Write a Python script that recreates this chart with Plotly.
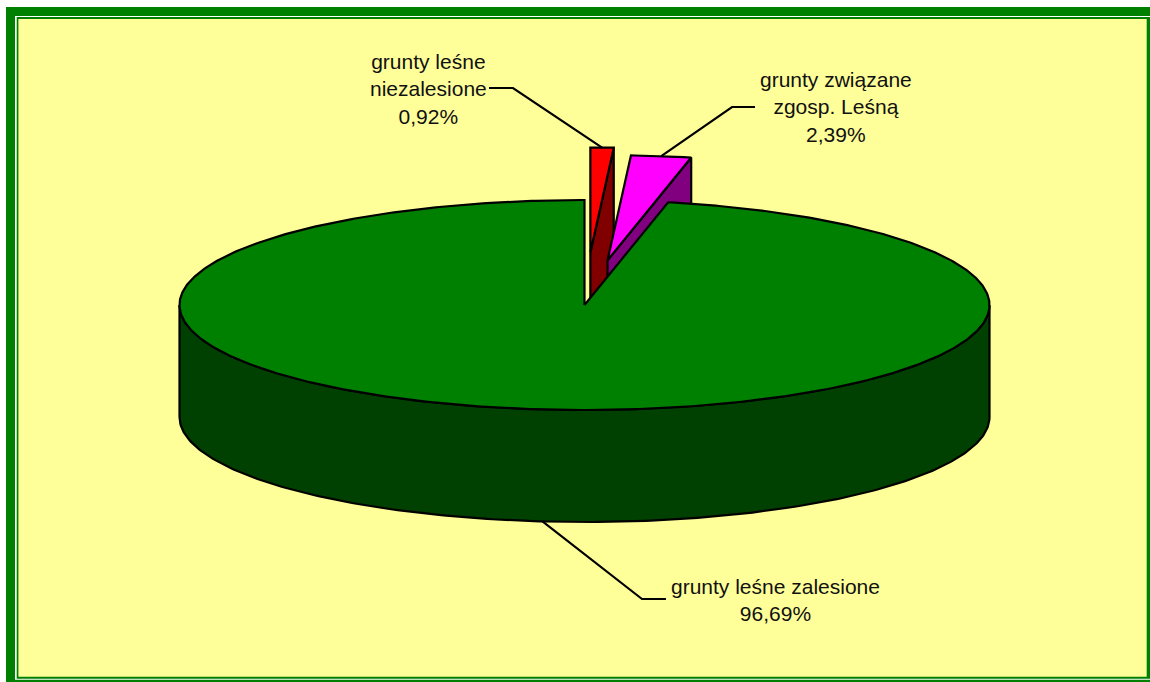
import numpy as np
import plotly.graph_objects as go

# ---- data ----
categories = ["grunty leśne niezalesione", "grunty związane zgosp. Leśną", "grunty leśne zalesione"]
display_names = ["grunty leśne<br>niezalesione", "grunty związane<br>zgosp. Leśną", "grunty leśne zalesione"]
values = [0.92, 2.39, 96.69]

# ---- style ----
top_colors = ["#FF0000", "#FF00FF", "#008000"]
side_colors = ["#800000", "#800080", "#004000"]
explode = [0.5, 0.43, 0.0]

# pie geometry in page pixels
CX, CY, RX, RY, DEPTH = 584.5, 305.0, 405.0, 105.0, 112.0
# label centre positions and leader knees (page pixels)
label_pos = [(428, 89), (836, 107), (775, 600)]
knee_pts = [[(513, 88), (489, 88)], [(732, 107), (755, 107)], [(642, 599), (666, 599)]]

W, H = 1150, 682
fig = go.Figure()

total = sum(values)
bounds = np.concatenate([[0.0], np.cumsum(values)]) / total * 360.0


def proj(theta_deg, off, dz=0.0):
    t = np.radians(theta_deg)
    return CX + off[0] + RX * np.sin(t), CY + off[1] - RY * np.cos(t) + dz


def poly(xs, ys, fill):
    xs = list(xs) + [xs[0]]
    ys = list(ys) + [ys[0]]
    fig.add_trace(go.Scatter(x=xs, y=ys, mode="lines", fill="toself", fillcolor=fill,
                             line=dict(color="black", width=2.2), hoverinfo="skip",
                             showlegend=False))


slices = []
for i, v in enumerate(values):
    t0, t1 = bounds[i], bounds[i + 1]
    m = (t0 + t1) / 2
    mr = np.radians(m)
    off = (explode[i] * RX * np.sin(mr), -explode[i] * RY * np.cos(mr))
    slices.append((i, t0, t1, m, off))

# draw exploded (back) slices first, main pie last
order = sorted(slices, key=lambda s: explode[s[0]], reverse=True)
for i, t0, t1, m, off in order:
    apex = (CX + off[0], CY + off[1])
    # radial faces
    if np.sin(np.radians(t1)) > 1e-9:
        px, py = proj(t1, off)
        poly([apex[0], px, px, apex[0]], [apex[1], py, py + DEPTH, apex[1] + DEPTH], side_colors[i])
    if np.sin(np.radians(t0)) < -1e-9:
        px, py = proj(t0, off)
        poly([apex[0], px, px, apex[0]], [apex[1], py, py + DEPTH, apex[1] + DEPTH], side_colors[i])
    # outer curved side (front half only)
    a, b = max(t0, 90.0), min(t1, 270.0)
    if b > a:
        th = np.linspace(a, b, 240)
        xs, ys = proj(th, off)
        poly(np.concatenate([xs, xs[::-1]]), np.concatenate([ys, ys[::-1] + DEPTH]), side_colors[i])
    # top face
    th = np.linspace(t0, t1, max(3, int((t1 - t0) * 2)))
    xs, ys = proj(th, off)
    poly(np.concatenate([[apex[0]], xs]), np.concatenate([[apex[1]], ys]), top_colors[i])

# leader lines and labels
for i, t0, t1, m, off in slices:
    ax_, ay_ = proj(m, off)
    if np.cos(np.radians(m)) < 0:
        ay_ += DEPTH
    (k1x, k1y), (k2x, k2y) = knee_pts[i]
    fig.add_trace(go.Scatter(x=[ax_, k1x, k2x], y=[ay_, k1y, k2y], mode="lines",
                             line=dict(color="black", width=2.2), hoverinfo="skip", showlegend=False))
    pct = f"{values[i]:.2f}".replace(".", ",") + "%"
    fig.add_annotation(x=label_pos[i][0], y=label_pos[i][1], xref="x", yref="y",
                       text=display_names[i] + "<br>" + pct, showarrow=False,
                       xanchor="center", yanchor="middle", align="center",
                       font=dict(family="Arial, Liberation Sans, sans-serif", size=21, color="#111111"))

# frame
shapes = [
    dict(type="rect", x0=6, y0=7, x1=1200, y1=720, fillcolor="#008000", line=dict(width=0)),
    dict(type="rect", x0=15, y0=16, x1=1151, y1=679.7, fillcolor="#FFFFFF", line=dict(width=0)),
    dict(type="rect", x0=16.7, y0=17, x1=1150, y1=678.7, fillcolor="#008000", line=dict(width=0)),
    dict(type="rect", x0=18.4, y0=19, x1=1146.7, y1=676.7, fillcolor="#FFFF99", line=dict(width=0)),
]
for s in shapes:
    s.update(xref="x", yref="y", layer="below")

fig.update_layout(
    width=W, height=H, autosize=False,
    margin=dict(l=0, r=0, t=0, b=0, pad=0),
    paper_bgcolor="white", plot_bgcolor="rgba(0,0,0,0)",
    xaxis=dict(range=[0, W], visible=False, fixedrange=True),
    yaxis=dict(range=[H, 0], visible=False, fixedrange=True),
    shapes=shapes, showlegend=False,
)
fig.write_html("out.html", config={"displayModeBar": False},
               post_script="document.body.style.margin='0';document.body.style.overflow='hidden';")
